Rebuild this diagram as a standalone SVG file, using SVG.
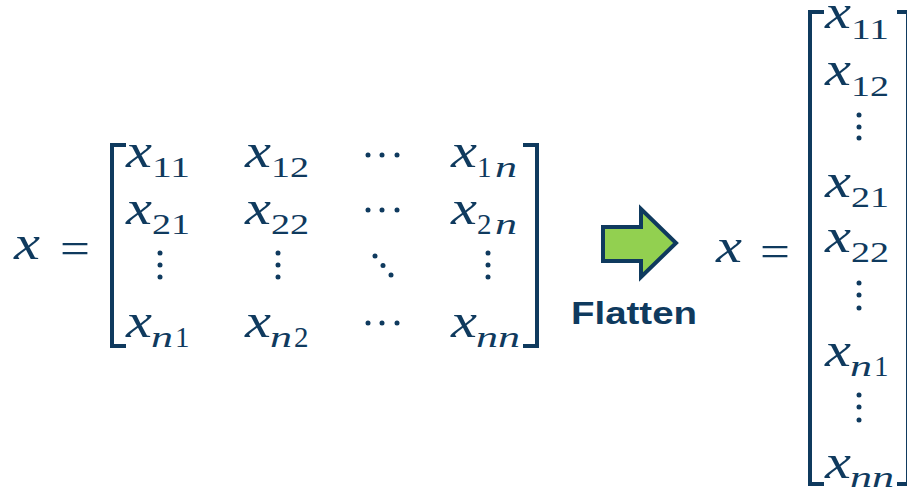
<svg xmlns="http://www.w3.org/2000/svg" width="907" height="491" viewBox="0 0 907 491">
<style>
.v{font-family:"Liberation Serif","DejaVu Serif",serif;font-style:italic;font-size:48px;fill:#0F3A5E}
.s{font-family:"Liberation Serif","DejaVu Serif",serif;font-size:29px;fill:#0F3A5E}
.si{font-family:"Liberation Serif","DejaVu Serif",serif;font-style:italic;font-size:30px;fill:#0F3A5E}
.eq{font-family:"Liberation Serif","DejaVu Serif",serif;font-size:44px;fill:#0F3A5E}
.br{fill:none;stroke:#0F3A5E;stroke-width:4}
.d{fill:#0F3A5E}
.lbl{font-family:"Liberation Sans",Arial,sans-serif;font-weight:bold;font-size:31px;fill:#0F3A5E}
</style>
<rect width="907" height="491" fill="#fff"/>
<g id="left-matrix">
<text class="v" x="14" y="259" textLength="26" lengthAdjust="spacingAndGlyphs">x</text>
<text class="eq" x="75" y="263" text-anchor="middle" textLength="30" lengthAdjust="spacingAndGlyphs">=</text>
<path class="br" d="M126,145 H112 V346 H126"/>
<path class="br" d="M523,145 H537 V346 H523"/>
<!-- row 1 -->
<text class="v" x="126" y="167" textLength="26" lengthAdjust="spacingAndGlyphs">x</text><text class="s" x="152" y="177" textLength="38" lengthAdjust="spacingAndGlyphs">11</text>
<text class="v" x="245" y="167" textLength="26" lengthAdjust="spacingAndGlyphs">x</text><text class="s" x="271" y="177" textLength="38" lengthAdjust="spacingAndGlyphs">12</text>
<circle class="d" cx="368" cy="155" r="2.5"/><circle class="d" cx="382" cy="155" r="2.5"/><circle class="d" cx="397" cy="155" r="2.5"/>
<text class="v" x="451" y="167" textLength="26" lengthAdjust="spacingAndGlyphs">x</text><text class="s" x="477" y="177">1</text><text class="si" x="495" y="177" textLength="22" lengthAdjust="spacingAndGlyphs">n</text>
<!-- row 2 -->
<text class="v" x="126" y="224" textLength="26" lengthAdjust="spacingAndGlyphs">x</text><text class="s" x="152" y="234" textLength="38" lengthAdjust="spacingAndGlyphs">21</text>
<text class="v" x="245" y="224" textLength="26" lengthAdjust="spacingAndGlyphs">x</text><text class="s" x="271" y="234" textLength="38" lengthAdjust="spacingAndGlyphs">22</text>
<circle class="d" cx="368" cy="210" r="2.5"/><circle class="d" cx="382" cy="210" r="2.5"/><circle class="d" cx="397" cy="210" r="2.5"/>
<text class="v" x="451" y="224" textLength="26" lengthAdjust="spacingAndGlyphs">x</text><text class="s" x="477" y="234">2</text><text class="si" x="495" y="234" textLength="22" lengthAdjust="spacingAndGlyphs">n</text>
<!-- vdots row -->
<circle class="d" cx="160" cy="253" r="2.5"/><circle class="d" cx="160" cy="265" r="2.5"/><circle class="d" cx="160" cy="277" r="2.5"/>
<circle class="d" cx="278" cy="253" r="2.5"/><circle class="d" cx="278" cy="265" r="2.5"/><circle class="d" cx="278" cy="277" r="2.5"/>
<circle class="d" cx="375" cy="256" r="2.5"/><circle class="d" cx="383" cy="265.5" r="2.5"/><circle class="d" cx="391" cy="275" r="2.5"/>
<circle class="d" cx="488" cy="253" r="2.5"/><circle class="d" cx="488" cy="265" r="2.5"/><circle class="d" cx="488" cy="277" r="2.5"/>
<!-- row n -->
<text class="v" x="126" y="337" textLength="26" lengthAdjust="spacingAndGlyphs">x</text><text class="si" x="151" y="347" textLength="22" lengthAdjust="spacingAndGlyphs">n</text><text class="s" x="175" y="347">1</text>
<text class="v" x="245" y="337" textLength="26" lengthAdjust="spacingAndGlyphs">x</text><text class="si" x="270" y="347" textLength="22" lengthAdjust="spacingAndGlyphs">n</text><text class="s" x="294" y="347">2</text>
<circle class="d" cx="368" cy="323" r="2.5"/><circle class="d" cx="382" cy="323" r="2.5"/><circle class="d" cx="397" cy="323" r="2.5"/>
<text class="v" x="451" y="337" textLength="26" lengthAdjust="spacingAndGlyphs">x</text><text class="si" x="476" y="347" textLength="44" lengthAdjust="spacingAndGlyphs">nn</text>
</g>
<g id="flatten-arrow">
<polygon points="603,227 641,227 641,209 676,243 641,277 641,261 603,261" fill="#92D050" stroke="#0F3A5E" stroke-width="4" stroke-linejoin="miter"/>
<text class="lbl" x="571" y="324" textLength="126" lengthAdjust="spacingAndGlyphs">Flatten</text>
</g>
<g id="right-vector">
<text class="v" x="716" y="262" textLength="26" lengthAdjust="spacingAndGlyphs">x</text>
<text class="eq" x="775" y="266" text-anchor="middle" textLength="30" lengthAdjust="spacingAndGlyphs">=</text>
<path class="br" d="M824,12 H810 V484 H824"/>
<path class="br" d="M897,12 H908 V484 H897"/>
<text class="v" x="825" y="28" textLength="26" lengthAdjust="spacingAndGlyphs">x</text><text class="s" x="851" y="39" textLength="38" lengthAdjust="spacingAndGlyphs">11</text>
<text class="v" x="825" y="85" textLength="26" lengthAdjust="spacingAndGlyphs">x</text><text class="s" x="851" y="96" textLength="38" lengthAdjust="spacingAndGlyphs">12</text>
<circle class="d" cx="859" cy="115" r="2.5"/><circle class="d" cx="859" cy="127" r="2.5"/><circle class="d" cx="859" cy="138" r="2.5"/>
<text class="v" x="825" y="197" textLength="26" lengthAdjust="spacingAndGlyphs">x</text><text class="s" x="851" y="207" textLength="38" lengthAdjust="spacingAndGlyphs">21</text>
<text class="v" x="825" y="252" textLength="26" lengthAdjust="spacingAndGlyphs">x</text><text class="s" x="851" y="262" textLength="38" lengthAdjust="spacingAndGlyphs">22</text>
<circle class="d" cx="859" cy="283" r="2.5"/><circle class="d" cx="859" cy="295" r="2.5"/><circle class="d" cx="859" cy="308" r="2.5"/>
<text class="v" x="825" y="366" textLength="26" lengthAdjust="spacingAndGlyphs">x</text><text class="si" x="850" y="376" textLength="22" lengthAdjust="spacingAndGlyphs">n</text><text class="s" x="874" y="376">1</text>
<circle class="d" cx="859" cy="395" r="2.5"/><circle class="d" cx="859" cy="407" r="2.5"/><circle class="d" cx="859" cy="420" r="2.5"/>
<text class="v" x="825" y="478" textLength="26" lengthAdjust="spacingAndGlyphs">x</text><text class="si" x="850" y="487" textLength="44" lengthAdjust="spacingAndGlyphs">nn</text>
</g>
</svg>
